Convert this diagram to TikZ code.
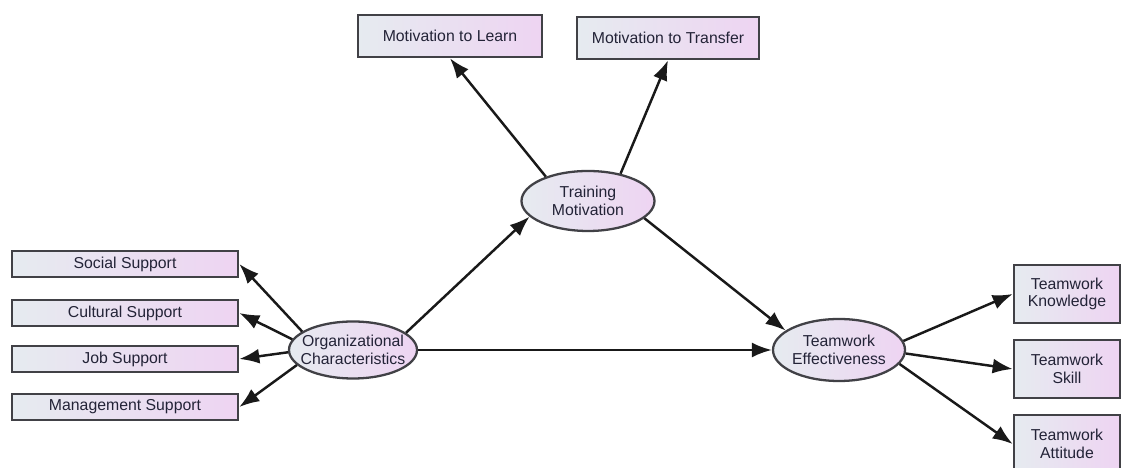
\documentclass[tikz,border=0pt]{standalone}
\usepackage{fontspec}
\setmainfont{Liberation Sans}
\usepackage{xcolor}
\usepackage{tikz}
\usetikzlibrary{shapes.geometric,arrows.meta}
\definecolor{boxleft}{RGB}{230,235,240}
\definecolor{boxright}{RGB}{238,212,242}
\definecolor{rimgray}{RGB}{65,65,70}
\definecolor{txtgray}{RGB}{35,35,55}
\tikzset{
	obsbox/.style={draw=rimgray, line width=1.5pt, left color=boxleft, right color=boxright, inner sep=0pt, text=txtgray, font=\fontsize{9}{10}\selectfont, align=center},
	latbox/.style={ellipse, draw=rimgray, line width=1.3pt, left color=boxleft, right color=boxright, inner xsep=-4pt, inner ysep=0pt, text=txtgray, font=\fontsize{9}{10}\selectfont, align=center},
	path/.style={-{Latex[length=4mm,width=3mm]}, line width=1.4pt, black!90}
}
\begin{document}
\begin{tikzpicture}
					\useasboundingbox (0,0) rectangle (22.52,9.36);
					\coordinate (S) at (2.50,4.08);
					\coordinate (C) at (2.50,3.10);
					\coordinate (J) at (2.50,2.18);
					\coordinate (M) at (2.50,1.22);
					\coordinate (O) at (7.06,2.36);
					\coordinate (T) at (11.76,5.34);
					\coordinate (E) at (16.78,2.36);
					\coordinate (L) at (9.00,8.64);
					\coordinate (R) at (13.36,8.60);
					\coordinate (K) at (21.34,3.48);
					\coordinate (P) at (21.34,1.98);
					\coordinate (A) at (21.34,0.48);
					
					\node (social) at (S) [obsbox, minimum width=4.52cm, minimum height=0.52cm] {Social Support};
					\node (cultural) at (C) [obsbox, minimum width=4.52cm, minimum height=0.52cm] {Cultural Support};
					\node (job) at (J) [obsbox, minimum width=4.52cm, minimum height=0.52cm] {Job Support};
					\node (management) at (M) [obsbox, minimum width=4.52cm, minimum height=0.52cm] {Management Support};
					\node (learn) at (L) [obsbox, minimum width=3.68cm, minimum height=0.84cm] {Motivation to Learn};
					\node (transfer) at (R) [obsbox, minimum width=3.64cm, minimum height=0.84cm] {Motivation to Transfer};
					\node (knowledge) at (K) [obsbox, minimum width=2.12cm, minimum height=1.16cm] {Teamwork\\Knowledge};
					\node (skill) at (P) [obsbox, minimum width=2.12cm, minimum height=1.16cm] {Teamwork\\Skill};
					\node (attitude) at (A) [obsbox, minimum width=2.12cm, minimum height=1.16cm] {Teamwork\\Attitude};
					
					\node (org) at (O) [latbox, minimum width=2.56cm, minimum height=1.14cm] {Organizational\\Characteristics};
					\node (train) at (T) [latbox, minimum width=2.66cm, minimum height=1.20cm] {Training\\Motivation};
					\node (team) at (E) [latbox, minimum width=2.64cm, minimum height=1.24cm] {Teamwork\\Effectiveness};
					
					\draw[path] (org.160) -- (social.east);
					\draw[path] (org.170) -- (cultural.east);
					\draw[path] (org.182) -- (job.east);
					\draw[path] (org.195) -- (management.east);
					\draw[path] (org.18) -- (train.195);
					\draw[path] (org) -- (team);
					\draw[path] (train.150) -- (learn.south);
					\draw[path] (train.40) -- (transfer.south);
					\draw[path] (train.343) -- (team.160);
					\draw[path] (team.8) -- (knowledge.west);
					\draw[path] (team.-3) -- (skill.west);
					\draw[path] (team.-13) -- (attitude.west);
				\end{tikzpicture}
\end{document}
